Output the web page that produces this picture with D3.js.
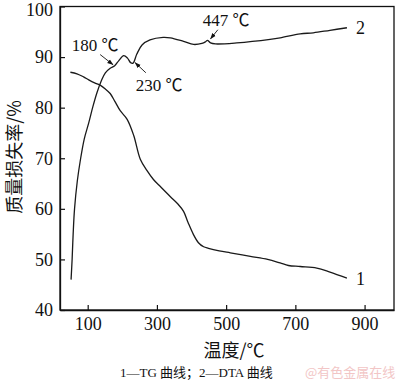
<!DOCTYPE html>
<html>
<head>
<meta charset="utf-8">
<script src="https://d3js.org/d3.v7.min.js"></script>
<style>
  body { margin: 0; background: #fff; }
  svg text { fill: #111; }
</style>
</head>
<body>
<div id="chart"></div>
<script>
// 温度 (℃) / 质量损失率 (%)
var xTicks = [100, 300, 500, 700, 900];
var yTicks = [40, 50, 60, 70, 80, 90, 100];

// 曲线1 TG
var tgTemp = [50, 69, 88, 103, 120, 137, 151, 165, 178, 194, 214, 233, 252, 271, 290, 310, 339, 360, 377, 390, 405, 420, 435, 449, 480, 512, 570, 620, 656, 680, 714, 762, 800, 849];
var tgMass = [87, 86.7, 86.1, 85.5, 84.9, 84.4, 83.7, 82.8, 81.3, 79.4, 77.7, 74.5, 69.8, 67.6, 65.8, 64.4, 62.4, 61.0, 59.5, 57.3, 55.0, 53.3, 52.5, 52.2, 51.7, 51.3, 50.6, 50.0, 49.3, 48.8, 48.6, 48.3, 47.5, 46.3];

// 曲线2 DTA
var dtaTemp = [52, 55, 58, 62, 70, 79, 90, 103, 115, 127, 140, 151, 165, 178, 190, 204, 215, 224, 231, 242, 257, 280, 318, 339, 377, 406, 430, 440, 446, 455, 469, 531, 627, 656, 714, 752, 800, 849];
var dtaVal  = [46, 50, 55, 60, 65.5, 69.7, 73.8, 77, 80.2, 83, 85.4, 86.9, 87.8, 88.3, 89.3, 90.3, 89.8, 88.9, 88.8, 90.6, 92.4, 93.4, 93.9, 93.8, 93.1, 92.5, 92.7, 93, 93.3, 92.8, 92.6, 92.8, 93.5, 93.8, 94.6, 94.8, 95.3, 95.8];

// 峰值标注
var noteText = ["180 ℃", "230 ℃", "447 ℃"];
var noteFrom = [[136, 90.5], [268, 86.9], [476, 95.4]];
var noteTo   = [[173, 88.5], [237, 88.9], [455, 93.6]];

var width = 400, height = 382;
var margin = {top: 6.5, right: 6, bottom: 72, left: 60};

var svg = d3.select("#chart").append("svg")
    .attr("width", width)
    .attr("height", height);

var x = d3.scaleLinear().domain([20, 985]).range([margin.left, width - margin.right]);
var y = d3.scaleLinear().domain([40, 100]).range([height - margin.bottom, margin.top]);

var serif = "'Liberation Serif', 'Times New Roman', 'Noto Sans CJK SC', serif";

// 边框
svg.append("rect")
    .attr("x", x.range()[0]).attr("y", y.range()[1])
    .attr("width", x.range()[1] - x.range()[0])
    .attr("height", y.range()[0] - y.range()[1])
    .attr("fill", "none").attr("stroke", "#111").attr("stroke-width", 1.3);

var xAxis = svg.append("g")
    .attr("transform", "translate(0," + y.range()[0] + ")")
    .call(d3.axisBottom(x).tickValues(xTicks).tickSizeInner(-5).tickSizeOuter(0).tickPadding(7));

var yAxis = svg.append("g")
    .attr("transform", "translate(" + x.range()[0] + ",0)")
    .call(d3.axisLeft(y).tickValues(yTicks).tickSizeInner(-5).tickSizeOuter(0).tickPadding(7));

[xAxis, yAxis].forEach(function(g){
    g.select(".domain").attr("stroke", "#111").attr("stroke-width", 1.3);
    g.selectAll(".tick line").attr("stroke", "#111").attr("stroke-width", 1.2);
    g.selectAll(".tick text").attr("font-family", serif).attr("font-size", 18).attr("fill", "#111");
});
// 顶部 100 标签稍下移，避免被裁切
yAxis.selectAll(".tick text").filter(function(d){ return d === 100; }).attr("dy", "0.5em");

// 曲线
var line = d3.line()
    .x(function(d){ return x(d[0]); })
    .y(function(d){ return y(d[1]); })
    .curve(d3.curveCatmullRom.alpha(0.5));

var tgData = tgTemp.map(function(t, i){ return [t, tgMass[i]]; });
var dtaData = dtaTemp.map(function(t, i){ return [t, dtaVal[i]]; });

svg.append("path").datum(tgData)
    .attr("d", line).attr("fill", "none").attr("stroke", "#1a1a1a").attr("stroke-width", 1.3);
svg.append("path").datum(dtaData)
    .attr("d", line).attr("fill", "none").attr("stroke", "#1a1a1a").attr("stroke-width", 1.3);

// 曲线编号
svg.append("text").attr("x", x(tgTemp[tgTemp.length-1]) + 9).attr("y", y(tgMass[tgMass.length-1]) + 7)
    .attr("font-family", serif).attr("font-size", 18).text("1");
svg.append("text").attr("x", x(dtaTemp[dtaTemp.length-1]) + 9).attr("y", y(dtaVal[dtaVal.length-1]) + 6)
    .attr("font-family", serif).attr("font-size", 18).text("2");

// 箭头
svg.append("defs").append("marker")
    .attr("id", "arr").attr("viewBox", "0 0 10 10")
    .attr("refX", 9).attr("refY", 5)
    .attr("markerWidth", 7).attr("markerHeight", 7)
    .attr("orient", "auto")
    .append("path").attr("d", "M0,1.5L10,5L0,8.5z").attr("fill", "#111");

noteFrom.forEach(function(p, i){
    svg.append("line")
        .attr("x1", x(p[0])).attr("y1", y(p[1]))
        .attr("x2", x(noteTo[i][0])).attr("y2", y(noteTo[i][1]))
        .attr("stroke", "#111").attr("stroke-width", 0.9)
        .attr("marker-end", "url(#arr)");
});

var notePos = [[95, 51], [159, 91], [226, 26]];
noteText.forEach(function(t, i){
    svg.append("text")
        .attr("x", notePos[i][0]).attr("y", notePos[i][1])
        .attr("text-anchor", "middle")
        .attr("font-family", serif).attr("font-size", 17)
        .text(t);
});

// 坐标轴标题
svg.append("text")
    .attr("transform", "translate(21,157) rotate(-90)")
    .attr("text-anchor", "middle")
    .attr("font-family", "'Noto Sans CJK SC', sans-serif").attr("font-size", 18)
    .text("质量损失率/%");

svg.append("text")
    .attr("x", 234).attr("y", 357)
    .attr("text-anchor", "middle")
    .attr("font-family", "'Noto Sans CJK SC', sans-serif").attr("font-size", 18)
    .text("温度/℃");

// 图注
svg.append("text")
    .attr("x", 120).attr("y", 377)
    .attr("font-family", serif).attr("font-size", 13)
    .text("1—TG 曲线；2—DTA 曲线");

svg.append("text")
    .attr("x", 305).attr("y", 377)
    .attr("font-family", "'Noto Sans CJK SC', sans-serif").attr("font-size", 13)
    .style("fill", "#f2c6c6")
    .text("@有色金属在线");
</script>
</body>
</html>
